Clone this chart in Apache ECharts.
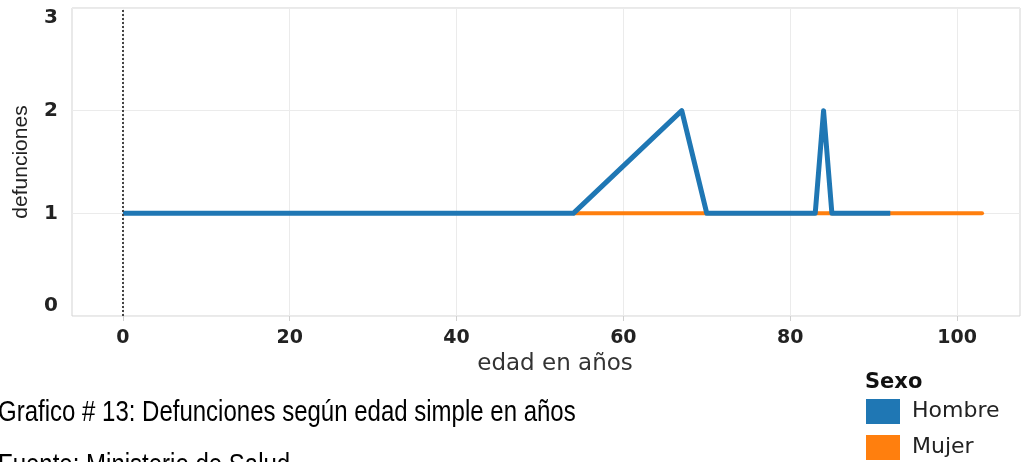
<!DOCTYPE html>
<html>
<head>
<meta charset="utf-8">
<script src="https://cdn.jsdelivr.net/npm/echarts@6/dist/echarts.min.js"></script>
<style>
html,body{margin:0;padding:0;background:#fff;}
#chart{width:1025px;height:462px;}
</style>
</head>
<body>
<div id="chart"></div>
<script>
// ---- data ----
const seriesNames = ['Hombre', 'Mujer'];
const hombreAges = [0, 54, 67, 70, 83, 84, 85, 92];
const hombreDeaths = [1, 1, 2, 1, 1, 2, 1, 1];
const mujerAges = [54, 70, 84, 92, 103];
const mujerDeaths = [1, 1, 1, 1, 1];
const xTicks = [0, 20, 40, 60, 80, 100];
const yTicks = [0, 1, 2, 3];
const titleText = 'Grafico # 13: Defunciones según edad simple en años';
const sourceText = 'Fuente: Ministerio de Salud';
const legendTitle = 'Sexo';
const xName = 'edad en años';
const yName = 'defunciones';

const pairs = (xs, ys) => xs.map((x, i) => [x, ys[i]]);

const chart = echarts.init(document.getElementById('chart'), null, {renderer: 'canvas'});
const gridColor = '#ebebeb';
const legendBase = {
  left: 866,
  itemWidth: 34, itemHeight: 25,
  icon: 'rect',
  padding: 0,
  textStyle: {fontFamily: 'DejaVu Sans', fontSize: 22, color: '#222', padding: [0, 0, 0, 7]}
};
chart.setOption({
  animation: false,
  backgroundColor: '#ffffff',
  grid: {
    left: 72, right: 5, top: 8, bottom: 146,
    show: true, borderColor: '#d3d3d3', borderWidth: 1, backgroundColor: 'transparent'
  },
  xAxis: {
    type: 'value',
    min: -6.1, max: 107.55,
    name: xName,
    nameLocation: 'middle',
    nameGap: 32,
    nameTextStyle: {fontFamily: 'DejaVu Sans', fontSize: 23, color: '#333', padding: [0, 0, 0, 18]},
    axisLine: {show: false},
    axisTick: {show: true, customValues: xTicks, length: 5, lineStyle: {color: '#cfcfcf'}},
    axisLabel: {customValues: xTicks, margin: 13, fontFamily: 'DejaVu Sans', fontWeight: 'bold', fontSize: 19, color: '#222'},
    splitLine: {show: true, lineStyle: {color: gridColor, width: 1}}
  },
  yAxis: {
    type: 'value',
    min: yTicks[0], max: yTicks[yTicks.length - 1], interval: 1,
    name: yName,
    nameLocation: 'middle',
    nameGap: 40,
    nameRotate: 90,
    nameTextStyle: {fontFamily: 'Liberation Sans', fontSize: 21, color: '#222'},
    axisLine: {show: false},
    axisTick: {show: false},
    axisLabel: {margin: 14, fontFamily: 'DejaVu Sans', fontWeight: 'bold', fontSize: 20, color: '#222',
      verticalAlignMinLabel: 'bottom', verticalAlignMaxLabel: 'top'},
    splitLine: {show: true, lineStyle: {color: gridColor, width: 1}}
  },
  legend: [
    Object.assign({}, legendBase, {data: [seriesNames[0]], top: 399}),
    Object.assign({}, legendBase, {data: [seriesNames[1]], top: 435})
  ],
  graphic: [
    {type: 'text', x: 865, y: 383, style: {text: legendTitle, font: 'bold 21px "DejaVu Sans"', fill: '#111', verticalAlign: 'middle'}},
    {type: 'text', x: -2, y: 413, scaleX: 0.8, style: {text: titleText, font: '30px "Liberation Sans"', fill: '#000', verticalAlign: 'middle'}},
    {type: 'text', x: -2, y: 466, scaleX: 0.8, style: {text: sourceText, font: '30px "Liberation Sans"', fill: '#000', verticalAlign: 'middle'}}
  ],
  series: [
    {
      name: 'Mujer', type: 'line', data: pairs(mujerAges, mujerDeaths),
      showSymbol: false, symbol: 'none', z: 2,
      itemStyle: {color: '#ff7f0e'},
      lineStyle: {color: '#ff7f0e', width: 4, join: 'round', cap: 'round'}
    },
    {
      name: 'Hombre', type: 'line', data: pairs(hombreAges, hombreDeaths),
      showSymbol: false, symbol: 'none', z: 3,
      itemStyle: {color: '#1f77b4'},
      lineStyle: {color: '#1f77b4', width: 5, join: 'round'},
      markLine: {
        silent: true, symbol: 'none', label: {show: false},
        lineStyle: {color: '#444', type: 'dotted', width: 2},
        data: [{xAxis: 0}]
      }
    }
  ]
});
</script>
</body>
</html>
